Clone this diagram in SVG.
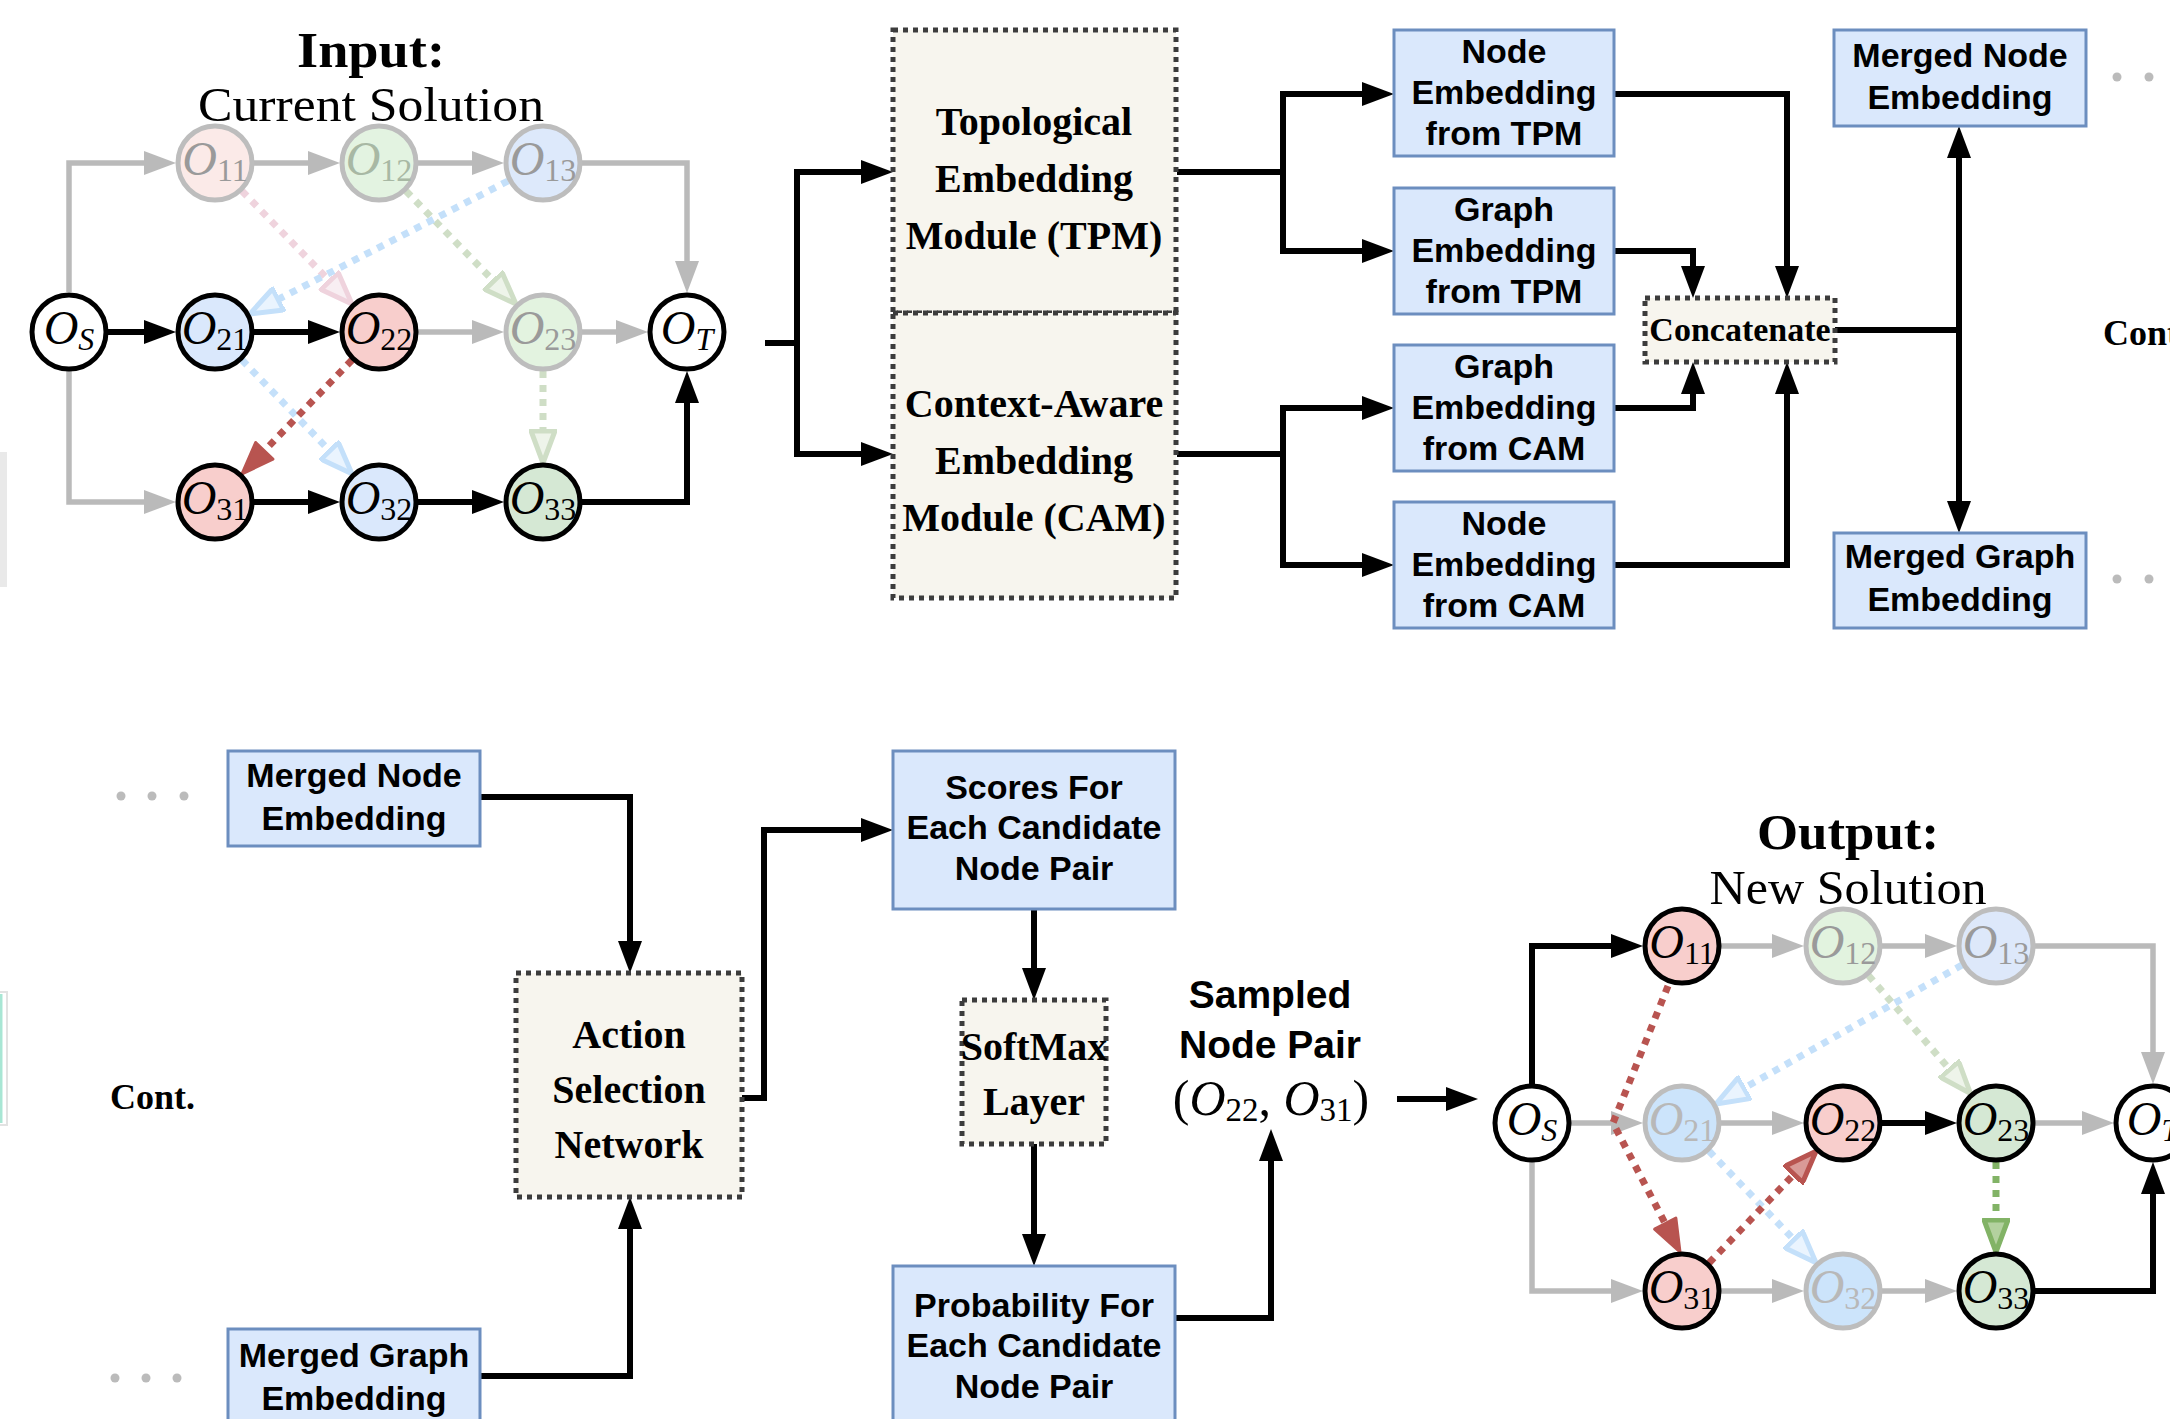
<svg xmlns="http://www.w3.org/2000/svg" width="2170" height="1419" viewBox="0 0 2170 1419">
<style>
.bb{fill:#dae8fc;stroke:#6c8ebf;stroke-width:3}
.db{fill:#f7f5ee;stroke:#3c3c3c;stroke-width:5;stroke-dasharray:5 5}
.k{fill:none;stroke:#000;stroke-width:6}
.g{fill:none;stroke:#bababa;stroke-width:5.5}
.d{fill:none;stroke-width:7;stroke-dasharray:7 7}
.sb{font-family:"Liberation Sans",Arial,sans-serif;font-weight:bold;font-size:34px;text-anchor:middle;fill:#000}
.fb{font-family:"Liberation Serif","Times New Roman",serif;font-weight:bold;font-size:40px;text-anchor:middle;fill:#000}
.m{font-family:"Liberation Serif","Times New Roman",serif;font-style:italic;font-size:48px;text-anchor:middle;fill:#000}
.s{font-style:normal;font-size:32px}
.si{font-style:italic;font-size:32px}
.nb{stroke:#000;stroke-width:5}
.ng{stroke:#bdbdbd;stroke-width:5}
.dot{fill:#bbbbbb}
</style>
<defs>
<marker id="ak" markerUnits="userSpaceOnUse" markerWidth="32" markerHeight="24" viewBox="0 0 32 24" refX="24" refY="12" orient="auto-start-reverse"><path d="M0,0 L32,12 L0,24 z" fill="#000"/></marker>
<marker id="ag" markerUnits="userSpaceOnUse" markerWidth="32" markerHeight="24" viewBox="0 0 32 24" refX="24" refY="12" orient="auto"><path d="M0,0 L32,12 L0,24 z" fill="#bababa"/></marker>
<marker id="ar" markerUnits="userSpaceOnUse" markerWidth="36" markerHeight="28" viewBox="-2 -2 36 28" refX="24" refY="12" orient="auto"><path d="M0,0 L32,12 L0,24 z" fill="#b85450" stroke="#b85450" stroke-width="3" stroke-linejoin="round"/></marker>
<marker id="arh" markerUnits="userSpaceOnUse" markerWidth="36" markerHeight="28" viewBox="-2 -2 36 28" refX="24" refY="12" orient="auto"><path d="M0,0 L32,12 L0,24 z" fill="#d99a97" stroke="#b85450" stroke-width="5" stroke-linejoin="round"/></marker>
<marker id="ap" markerUnits="userSpaceOnUse" markerWidth="36" markerHeight="28" viewBox="-2 -2 36 28" refX="24" refY="12" orient="auto"><path d="M0,0 L32,12 L0,24 z" fill="#f8eef2" stroke="#efd3dd" stroke-width="5" stroke-linejoin="round"/></marker>
<marker id="agf" markerUnits="userSpaceOnUse" markerWidth="36" markerHeight="28" viewBox="-2 -2 36 28" refX="24" refY="12" orient="auto"><path d="M0,0 L32,12 L0,24 z" fill="#eef4ea" stroke="#cfdec6" stroke-width="5" stroke-linejoin="round"/></marker>
<marker id="agr" markerUnits="userSpaceOnUse" markerWidth="36" markerHeight="28" viewBox="-2 -2 36 28" refX="24" refY="12" orient="auto"><path d="M0,0 L32,12 L0,24 z" fill="#b3d19f" stroke="#82b366" stroke-width="5" stroke-linejoin="round"/></marker>
<marker id="abl" markerUnits="userSpaceOnUse" markerWidth="36" markerHeight="28" viewBox="-2 -2 36 28" refX="24" refY="12" orient="auto"><path d="M0,0 L32,12 L0,24 z" fill="#eaf4fe" stroke="#c4e0fa" stroke-width="5" stroke-linejoin="round"/></marker>
</defs>
<rect width="2170" height="1419" fill="#fff"/>

<g id="edge-fragments">
<rect x="0" y="452" width="7" height="135" fill="#e9e9e9"/>
<rect x="-10" y="992" width="17" height="133" fill="#fff" stroke="#e2e2e2" stroke-width="2"/>
<line x1="1" y1="994" x2="1" y2="1123" stroke="#a8e6d4" stroke-width="3"/>
</g>

<g id="titles">
<text class="fb" x="371" y="67" style="font-size:50px" textLength="148" lengthAdjust="spacingAndGlyphs">Input:</text>
<text x="371" y="121" style="font-family:'Liberation Serif','Times New Roman',serif;font-size:48px;text-anchor:middle" textLength="346" lengthAdjust="spacingAndGlyphs">Current Solution</text>
<text class="fb" x="1848" y="849" style="font-size:50px" textLength="182" lengthAdjust="spacingAndGlyphs">Output:</text>
<text x="1848" y="904" style="font-family:'Liberation Serif','Times New Roman',serif;font-size:48px;text-anchor:middle" textLength="277" lengthAdjust="spacingAndGlyphs">New Solution</text>
<text class="fb" x="2103" y="345" style="font-size:36px;text-anchor:start">Cont.</text>
<text class="fb" x="110" y="1109" style="font-size:36px;text-anchor:start">Cont.</text>
</g>

<g id="connectors">
<path class="g" d="M69,292 V163 H168" marker-end="url(#ag)"/>
<path class="g" d="M254,163 H332" marker-end="url(#ag)"/>
<path class="g" d="M418,163 H496" marker-end="url(#ag)"/>
<path class="g" d="M582,163 H687 V285" marker-end="url(#ag)"/>
<path class="k" d="M108,332 H168" marker-end="url(#ak)"/>
<path class="k" d="M254,332 H332" marker-end="url(#ak)"/>
<path class="g" d="M418,332 H496" marker-end="url(#ag)"/>
<path class="g" d="M582,332 H640" marker-end="url(#ag)"/>
<path class="g" d="M69,371 V502 H168" marker-end="url(#ag)"/>
<path class="k" d="M254,502 H332" marker-end="url(#ak)"/>
<path class="k" d="M418,502 H496" marker-end="url(#ak)"/>
<path class="k" d="M582,502 H687 V379" marker-end="url(#ak)"/>
<path class="d" stroke="#efd3dd" d="M242,191 L346.4,298.3" marker-end="url(#ap)"/>
<path class="d" stroke="#cfdec6" d="M406,191 L510.4,298.3" marker-end="url(#agf)"/>
<path class="d" stroke="#c4e0fa" d="M508,181 L256.8,310.4" marker-end="url(#abl)"/>
<path class="d" stroke="#c4e0fa" d="M242,360 L346.4,468.1" marker-end="url(#abl)"/>
<path class="d" stroke="#b85450" d="M352,360 L247.6,468.1" marker-end="url(#ar)"/>
<path class="d" stroke="#cfdec6" d="M543,371 V455" marker-end="url(#agf)"/>

<path class="k" d="M765,343 H797 V172 H885" marker-end="url(#ak)"/>
<path class="k" d="M797,343 V454 H885" marker-end="url(#ak)"/>
<path class="k" d="M1177,172 H1283 V94 H1386" marker-end="url(#ak)"/>
<path class="k" d="M1283,172 V251 H1386" marker-end="url(#ak)"/>
<path class="k" d="M1177,454 H1283 V408 H1386" marker-end="url(#ak)"/>
<path class="k" d="M1283,454 V565 H1386" marker-end="url(#ak)"/>
<path class="k" d="M1614,94 H1787 V290" marker-end="url(#ak)"/>
<path class="k" d="M1614,251 H1693 V290" marker-end="url(#ak)"/>
<path class="k" d="M1614,408 H1693 V370" marker-end="url(#ak)"/>
<path class="k" d="M1614,565 H1787 V370" marker-end="url(#ak)"/>
<path class="k" d="M1835,330 H1959"/>
<path class="k" d="M1959,134 V525" marker-start="url(#ak)" marker-end="url(#ak)"/>

<path class="k" d="M480,797 H630 V965" marker-end="url(#ak)"/>
<path class="k" d="M480,1376 H630 V1205" marker-end="url(#ak)"/>
<path class="k" d="M742,1098 H764 V830 H885" marker-end="url(#ak)"/>
<path class="k" d="M1034,909 V992" marker-end="url(#ak)"/>
<path class="k" d="M1034,1144 V1258" marker-end="url(#ak)"/>
<path class="k" d="M1175,1318 H1271 V1137" marker-end="url(#ak)"/>
<path class="k" d="M1397,1099 H1470" marker-end="url(#ak)"/>

<path class="k" d="M1532,1084 V946 H1635" marker-end="url(#ak)"/>
<path class="g" d="M1721,946 H1796" marker-end="url(#ag)"/>
<path class="g" d="M1882,946 H1949" marker-end="url(#ag)"/>
<path class="g" d="M2035,946 H2153 V1076" marker-end="url(#ag)"/>
<path class="g" d="M1571,1123 H1635" marker-end="url(#ag)"/>
<path class="g" d="M1721,1123 H1796" marker-end="url(#ag)"/>
<path class="k" d="M1882,1123 H1949" marker-end="url(#ak)"/>
<path class="g" d="M2035,1123 H2106" marker-end="url(#ag)"/>
<path class="g" d="M1532,1162 V1291 H1635" marker-end="url(#ag)"/>
<path class="g" d="M1721,1291 H1796" marker-end="url(#ag)"/>
<path class="g" d="M1882,1291 H1949" marker-end="url(#ag)"/>
<path class="k" d="M2035,1291 H2153 V1170" marker-end="url(#ak)"/>
<path class="d" stroke="#cfdec6" d="M1868.5,975.5 L1965.3,1087.5" marker-end="url(#agf)"/>
<path class="d" stroke="#c4e0fa" d="M1962,965 L1723,1100" marker-end="url(#abl)"/>
<path class="d" stroke="#c4e0fa" d="M1709,1151 L1810.5,1257" marker-end="url(#abl)"/>
<path class="d" stroke="#b85450" d="M1668,986 L1613,1123 L1676.3,1244.9" marker-end="url(#ar)"/>
<path class="d" stroke="#b85450" d="M1709,1263 L1810.5,1157" marker-end="url(#arh)"/>
<path class="d" stroke="#82b366" d="M1996,1162 V1244" marker-end="url(#agr)"/>
</g>

<g id="in-OS"><circle class="nb" cx="69" cy="332" r="37" fill="#fff"/><text class="m" x="69" y="344">O<tspan class="si" dy="6">S</tspan></text></g>
<g id="in-O11"><circle class="ng" cx="215" cy="163" r="37" fill="#fbeae8"/><text class="m" x="215" y="175" style="fill:#9a9a9a">O<tspan class="s" dy="6">11</tspan></text></g>
<g id="in-O12"><circle class="ng" cx="379" cy="163" r="37" fill="#e3f3e1"/><text class="m" x="379" y="175" style="fill:#a8b8a4">O<tspan class="s" dy="6">12</tspan></text></g>
<g id="in-O13"><circle class="ng" cx="543" cy="163" r="37" fill="#dde9fb"/><text class="m" x="543" y="175" style="fill:#9a9a9a">O<tspan class="s" dy="6">13</tspan></text></g>
<g id="in-O21"><circle class="nb" cx="215" cy="332" r="37" fill="#dae8fc"/><text class="m" x="215" y="344">O<tspan class="s" dy="6">21</tspan></text></g>
<g id="in-O22"><circle class="nb" cx="379" cy="332" r="37" fill="#f8cecc"/><text class="m" x="379" y="344">O<tspan class="s" dy="6">22</tspan></text></g>
<g id="in-O23"><circle class="ng" cx="543" cy="332" r="37" fill="#e3f3e0"/><text class="m" x="543" y="344" style="fill:#9a9a9a">O<tspan class="s" dy="6">23</tspan></text></g>
<g id="in-OT"><circle class="nb" cx="687" cy="332" r="37" fill="#fff"/><text class="m" x="687" y="344">O<tspan class="si" dy="6">T</tspan></text></g>
<g id="in-O31"><circle class="nb" cx="215" cy="502" r="37" fill="#f8cecc"/><text class="m" x="215" y="514">O<tspan class="s" dy="6">31</tspan></text></g>
<g id="in-O32"><circle class="nb" cx="379" cy="502" r="37" fill="#dae8fc"/><text class="m" x="379" y="514">O<tspan class="s" dy="6">32</tspan></text></g>
<g id="in-O33"><circle class="nb" cx="543" cy="502" r="37" fill="#d5e8d4"/><text class="m" x="543" y="514">O<tspan class="s" dy="6">33</tspan></text></g>

<g id="tpm"><rect class="db" x="893" y="30" width="283" height="283"/>
<text class="fb" x="1034" y="135">Topological</text><text class="fb" x="1034" y="192">Embedding</text><text class="fb" x="1034" y="249">Module (TPM)</text></g>
<g id="cam"><rect class="db" x="893" y="313" width="283" height="285"/>
<text class="fb" x="1034" y="417">Context-Aware</text><text class="fb" x="1034" y="474">Embedding</text><text class="fb" x="1034" y="531">Module (CAM)</text></g>

<g id="node-emb-tpm"><rect class="bb" x="1394" y="30" width="220" height="126"/>
<text class="sb" x="1504" y="63">Node</text><text class="sb" x="1504" y="104">Embedding</text><text class="sb" x="1504" y="145">from TPM</text></g>
<g id="graph-emb-tpm"><rect class="bb" x="1394" y="188" width="220" height="126"/>
<text class="sb" x="1504" y="221">Graph</text><text class="sb" x="1504" y="262">Embedding</text><text class="sb" x="1504" y="303">from TPM</text></g>
<g id="graph-emb-cam"><rect class="bb" x="1394" y="345" width="220" height="126"/>
<text class="sb" x="1504" y="378">Graph</text><text class="sb" x="1504" y="419">Embedding</text><text class="sb" x="1504" y="460">from CAM</text></g>
<g id="node-emb-cam"><rect class="bb" x="1394" y="502" width="220" height="126"/>
<text class="sb" x="1504" y="535">Node</text><text class="sb" x="1504" y="576">Embedding</text><text class="sb" x="1504" y="617">from CAM</text></g>

<g id="concatenate"><rect class="db" x="1645" y="298" width="190" height="64"/>
<text class="fb" x="1740" y="341" style="font-size:34px">Concatenate</text></g>

<g id="merged-node-top"><rect class="bb" x="1834" y="30" width="252" height="96"/>
<text class="sb" x="1960" y="67">Merged Node</text><text class="sb" x="1960" y="109">Embedding</text></g>
<g id="merged-graph-top"><rect class="bb" x="1834" y="533" width="252" height="95"/>
<text class="sb" x="1960" y="568">Merged Graph</text><text class="sb" x="1960" y="611">Embedding</text></g>
<g id="dots-top"><circle class="dot" cx="2117" cy="77" r="4.5"/><circle class="dot" cx="2149" cy="77" r="4.5"/><circle class="dot" cx="2117" cy="579" r="4.5"/><circle class="dot" cx="2149" cy="579" r="4.5"/></g>

<g id="dots-bottom"><circle class="dot" cx="121" cy="796" r="4.5"/><circle class="dot" cx="152" cy="796" r="4.5"/><circle class="dot" cx="184" cy="796" r="4.5"/><circle class="dot" cx="115" cy="1378" r="4.5"/><circle class="dot" cx="146" cy="1378" r="4.5"/><circle class="dot" cx="177" cy="1378" r="4.5"/></g>
<g id="merged-node-bottom"><rect class="bb" x="228" y="751" width="252" height="95"/>
<text class="sb" x="354" y="787">Merged Node</text><text class="sb" x="354" y="830">Embedding</text></g>
<g id="merged-graph-bottom"><rect class="bb" x="228" y="1329" width="252" height="100"/>
<text class="sb" x="354" y="1367">Merged Graph</text><text class="sb" x="354" y="1410">Embedding</text></g>
<g id="action-selection"><rect class="db" x="516" y="973" width="226" height="224"/>
<text class="fb" x="629" y="1048">Action</text><text class="fb" x="629" y="1103">Selection</text><text class="fb" x="629" y="1158">Network</text></g>
<g id="scores"><rect class="bb" x="893" y="751" width="282" height="158"/>
<text class="sb" x="1034" y="799">Scores For</text><text class="sb" x="1034" y="839">Each Candidate</text><text class="sb" x="1034" y="880">Node Pair</text></g>
<g id="softmax"><rect class="db" x="962" y="1000" width="144" height="144"/>
<text class="fb" x="1034" y="1060">SoftMax</text><text class="fb" x="1034" y="1115">Layer</text></g>
<g id="probability"><rect class="bb" x="893" y="1266" width="282" height="160"/>
<text class="sb" x="1034" y="1317">Probability For</text><text class="sb" x="1034" y="1357">Each Candidate</text><text class="sb" x="1034" y="1398">Node Pair</text></g>
<g id="sampled">
<text class="sb" x="1270" y="1008" style="font-size:39px">Sampled</text>
<text class="sb" x="1270" y="1058" style="font-size:39px">Node Pair</text>
<text x="1271" y="1115" style="font-family:'Liberation Serif','Times New Roman',serif;font-size:50px;text-anchor:middle">(<tspan font-style="italic">O</tspan><tspan font-size="33" dy="6">22</tspan><tspan dy="-6">, </tspan><tspan font-style="italic">O</tspan><tspan font-size="33" dy="6">31</tspan><tspan dy="-6">)</tspan></text>
</g>

<g id="out-OS"><circle class="nb" cx="1532" cy="1123" r="37" fill="#fff"/><text class="m" x="1532" y="1135">O<tspan class="si" dy="6">S</tspan></text></g>
<g id="out-O11"><circle class="nb" cx="1682" cy="946" r="37" fill="#f8cecc"/><text class="m" x="1682" y="958">O<tspan class="s" dy="6">11</tspan></text></g>
<g id="out-O12"><circle class="ng" cx="1843" cy="946" r="37" fill="#e2f3df"/><text class="m" x="1843" y="958" style="fill:#9a9a9a">O<tspan class="s" dy="6">12</tspan></text></g>
<g id="out-O13"><circle class="ng" cx="1996" cy="946" r="37" fill="#dde8fa"/><text class="m" x="1996" y="958" style="fill:#9a9a9a">O<tspan class="s" dy="6">13</tspan></text></g>
<g id="out-O21"><circle class="ng" cx="1682" cy="1123" r="37" fill="#cce4fb"/><text class="m" x="1682" y="1135" style="fill:#b8b8b8">O<tspan class="s" dy="6">21</tspan></text></g>
<g id="out-O22"><circle class="nb" cx="1843" cy="1123" r="37" fill="#f8cecc"/><text class="m" x="1843" y="1135">O<tspan class="s" dy="6">22</tspan></text></g>
<g id="out-O23"><circle class="nb" cx="1996" cy="1123" r="37" fill="#d5e8d4"/><text class="m" x="1996" y="1135">O<tspan class="s" dy="6">23</tspan></text></g>
<g id="out-OT"><circle class="nb" cx="2153" cy="1123" r="37" fill="#fff"/><text class="m" x="2153" y="1135">O<tspan class="si" dy="6">T</tspan></text></g>
<g id="out-O31"><circle class="nb" cx="1682" cy="1291" r="37" fill="#f8cecc"/><text class="m" x="1682" y="1303">O<tspan class="s" dy="6">31</tspan></text></g>
<g id="out-O32"><circle class="ng" cx="1843" cy="1291" r="37" fill="#cce4fb"/><text class="m" x="1843" y="1303" style="fill:#b8b8b8">O<tspan class="s" dy="6">32</tspan></text></g>
<g id="out-O33"><circle class="nb" cx="1996" cy="1291" r="37" fill="#d5e8d4"/><text class="m" x="1996" y="1303">O<tspan class="s" dy="6">33</tspan></text></g>
</svg>
